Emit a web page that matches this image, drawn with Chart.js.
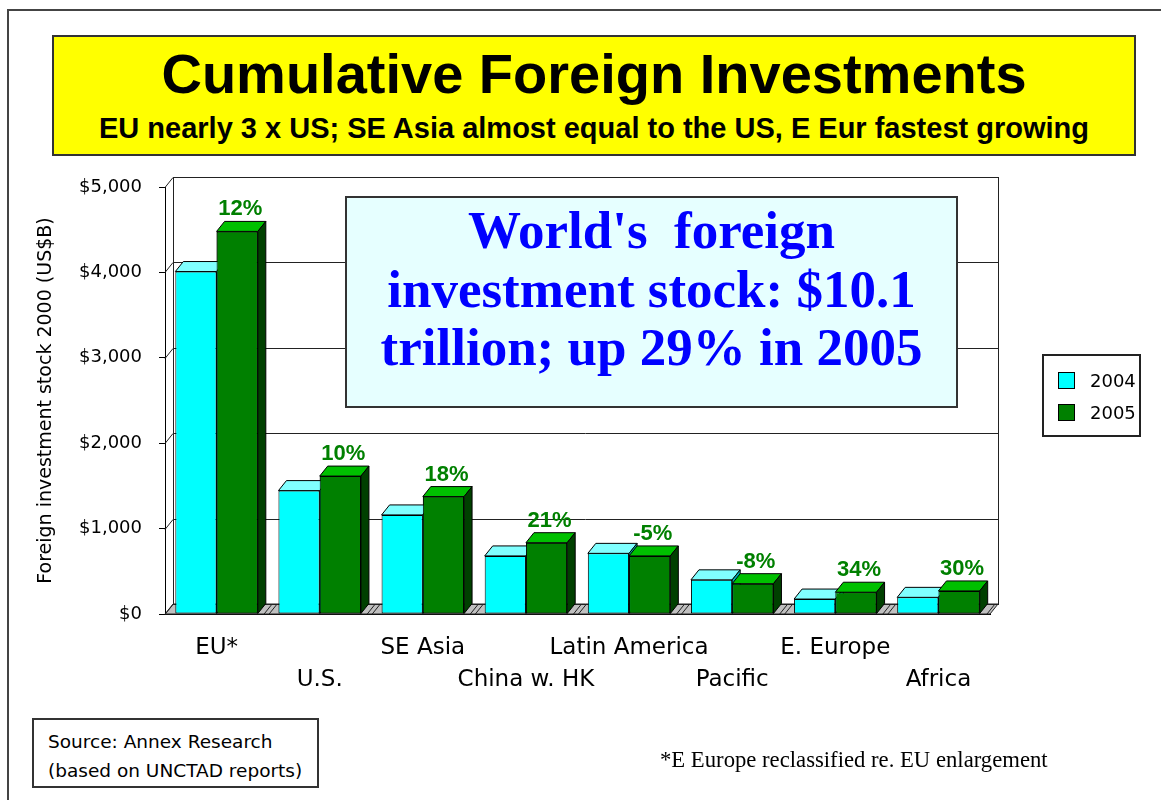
<!DOCTYPE html>
<html>
<head>
<meta charset="utf-8">
<title>Cumulative Foreign Investments</title>
<script src="https://cdn.jsdelivr.net/npm/chart.js@4.4.1/dist/chart.umd.min.js"></script>
<style>
  html, body { margin: 0; padding: 0; background: #fff; }
  body { width: 1161px; height: 800px; position: relative; overflow: hidden; }
  #frame { position: absolute; left: 7px; top: 9px; width: 1300px; height: 900px;
           border-left: 2px solid #444; border-top: 2px solid #444; }
  #chart { position: absolute; left: 0; top: 0; }
  .box { position: absolute; box-sizing: border-box; border: 2px solid #333; }
  .txt { position: absolute; white-space: pre; }
  #titleBox { left: 52px; top: 35px; width: 1084px; height: 121px; background: #ffff00; }
  #title { left: 52px; width: 1084px; top: 46px; text-align: center;
           font: bold 56px/56px "Liberation Sans", Arial, sans-serif; color: #000; }
  #subtitle { left: 52px; width: 1084px; top: 114px; text-align: center;
              font: bold 29px/29px "Liberation Sans", Arial, sans-serif; color: #000; }
  #callout { left: 345px; top: 196px; width: 613px; height: 212px; background: #e6ffff; }
  #calloutText { left: 345px; width: 613px; top: 201px; text-align: center;
                 font: bold 53px/58.5px "Liberation Serif", "Times New Roman", serif; color: #0000ff; }
  #sourceBox { left: 32px; top: 718px; width: 287px; height: 70px; background: #fff; }
  #sourceText { left: 48px; top: 727px; font: 18.5px/29px "DejaVu Sans", sans-serif; color: #000; }
  #footnote { left: 660px; top: 749px; font: 22.7px/22px "Liberation Serif", serif; color: #000; }
</style>
</head>
<body>
<div id="frame"></div>
<canvas id="chart" width="1161" height="800"></canvas>
<div class="box" id="titleBox"></div>
<div class="txt" id="title">Cumulative Foreign Investments</div>
<div class="txt" id="subtitle">EU nearly 3 x US; SE Asia almost equal to the US, E Eur fastest growing</div>
<div class="box" id="callout"></div>
<div class="txt" id="calloutText">World's  foreign
investment stock: $10.1
trillion; up 29% in 2005</div>
<div class="box" id="sourceBox"></div>
<div class="txt" id="sourceText">Source: Annex Research
(based on UNCTAD reports)</div>
<div class="txt" id="footnote">*E Europe reclassified re. EU enlargement</div>

<script>
// ── Data (US$ billions) ──
const categories = ['EU*', 'U.S.', 'SE Asia', 'China w. HK', 'Latin America', 'Pacific', 'E. Europe', 'Africa'];
const stock2004 = [4010, 1445, 1160, 680, 710, 400, 175, 195];
const stock2005 = [4480, 1615, 1375, 835, 680, 355, 255, 270];
const growthLabels = ['12%', '10%', '18%', '21%', '-5%', '-8%', '34%', '30%'];
const seriesNames = ['2004', '2005'];

// ── 3D look ──
const DX = 8, DY = 10;
const frontFace = ['#00ffff', '#008000'];
const topFace = ['#80ffff', '#00c000'];
const sideFace = ['#00b0b0', '#004000'];

function poly(ctx, pts) {
  ctx.beginPath();
  ctx.moveTo(pts[0][0], pts[0][1]);
  for (let i = 1; i < pts.length; i++) ctx.lineTo(pts[i][0], pts[i][1]);
  ctx.closePath();
}

function line(ctx, x1, y1, x2, y2) {
  ctx.beginPath();
  ctx.moveTo(x1, y1);
  ctx.lineTo(x2, y2);
  ctx.stroke();
}

function barFaces(ctx, bar, i) {
  const { x, y, base, width } = bar.getProps(['x', 'y', 'base', 'width'], true);
  const l = x - width / 2, r = x + width / 2;
  ctx.fillStyle = topFace[i];
  poly(ctx, [[l, y], [r, y], [r + DX, y - DY], [l + DX, y - DY]]);
  ctx.fill(); ctx.stroke();
  ctx.fillStyle = sideFace[i];
  poly(ctx, [[r, y], [r + DX, y - DY], [r + DX, base - DY], [r, base]]);
  ctx.fill(); ctx.stroke();
}

// walls, floor and back gridlines
const walls3d = {
  id: 'walls3d',
  beforeDatasetsDraw(chart) {
    const { ctx, chartArea: a, scales: { x, y } } = chart;
    ctx.save();
    ctx.lineWidth = 1;
    ctx.strokeStyle = '#222';
    // floor
    ctx.fillStyle = '#c0c0c0';
    poly(ctx, [[a.left, a.bottom], [a.right, a.bottom], [a.right + DX, a.bottom - DY], [a.left + DX, a.bottom - DY]]);
    ctx.fill(); ctx.stroke();
    const step = x.width / categories.length;
    for (let i = 1; i < categories.length; i++) {
      const bx = a.left + i * step;
      line(ctx, bx - 4, a.bottom, bx - 4 + DX, a.bottom - DY);
      line(ctx, bx + 1, a.bottom, bx + 1 + DX, a.bottom - DY);
    }
    line(ctx, a.right - 3, a.bottom, a.right - 3 + DX, a.bottom - DY);
    // back wall
    ctx.strokeRect(a.left + DX + 0.5, a.top - DY + 0.5, a.right - a.left, a.bottom - a.top);
    y.ticks.forEach(t => {
      const py = Math.round(y.getPixelForValue(t.value)) + 0.5;
      line(ctx, a.left + DX, py - DY, a.right + DX, py - DY);
      line(ctx, a.left, py, a.left + DX, py - DY);
    });
    ctx.restore();
  },
  afterDatasetsDraw(chart) {
    const { ctx } = chart;
    const m0 = chart.getDatasetMeta(0), m1 = chart.getDatasetMeta(1);
    ctx.save();
    ctx.lineWidth = 1;
    ctx.strokeStyle = '#000';
    m0.data.forEach(bar => barFaces(ctx, bar, 0));
    m1.data.forEach(bar => { bar.draw(ctx); barFaces(ctx, bar, 1); });
    // growth labels over the 2005 bars
    ctx.fillStyle = '#008000';
    ctx.font = 'bold 22px "Liberation Sans", Arial, sans-serif';
    ctx.textAlign = 'center';
    ctx.textBaseline = 'alphabetic';
    m1.data.forEach((bar, i) => {
      ctx.fillText(growthLabels[i], bar.x + DX / 2 - 1, bar.y - DY - 6);
    });
    ctx.restore();
  },
  afterDraw(chart) {
    // boxed legend at the right
    const { ctx } = chart;
    const bx = 1043, by = 355, bw = 97, bh = 81;
    ctx.save();
    ctx.fillStyle = '#fff';
    ctx.fillRect(bx, by, bw, bh);
    ctx.strokeStyle = '#222';
    ctx.lineWidth = 2;
    ctx.strokeRect(bx, by, bw, bh);
    ctx.lineWidth = 1;
    ctx.font = '18px "DejaVu Sans", sans-serif';
    ctx.textBaseline = 'middle';
    chart.data.datasets.forEach((ds, i) => {
      const cy = by + 26 + i * 32;
      ctx.fillStyle = ds.backgroundColor;
      ctx.fillRect(bx + 15, cy - 9, 17, 17);
      ctx.strokeStyle = '#000';
      ctx.strokeRect(bx + 15.5, cy - 8.5, 16, 16);
      ctx.fillStyle = '#000';
      ctx.fillText(ds.label, bx + 47, cy + 1);
    });
    ctx.restore();
  }
};

new Chart(document.getElementById('chart'), {
  type: 'bar',
  data: {
    labels: categories,
    datasets: [
      { label: seriesNames[0], data: stock2004, backgroundColor: frontFace[0] },
      { label: seriesNames[1], data: stock2005, backgroundColor: frontFace[1] }
    ]
  },
  options: {
    responsive: false,
    animation: false,
    layout: { padding: { left: 0, top: 187, right: 171, bottom: 86 } },
    datasets: {
      bar: {
        borderColor: '#000',
        borderWidth: 1,
        borderSkipped: false,
        categoryPercentage: 0.8,
        barPercentage: 1.0
      }
    },
    plugins: {
      legend: { display: false },
      tooltip: { enabled: false }
    },
    scales: {
      x: {
        afterFit: s => { s.height = 100; },
        grid: { display: false, drawTicks: false },
        border: { display: true, color: '#000' },
        ticks: {
          color: '#000',
          padding: 18,
          maxRotation: 0,
          autoSkip: false,
          font: { family: 'DejaVu Sans', size: 23, lineHeight: '32px' },
          // stagger the labels over two rows
          callback: (v, i) => (i % 2 === 0 ? [categories[i], ''] : ['', categories[i]])
        }
      },
      y: {
        min: 0,
        max: 5000,
        afterFit: s => { s.width = 165; },
        grid: { drawOnChartArea: false, drawTicks: true, tickLength: 6, color: '#000' },
        border: { display: true, color: '#000' },
        ticks: {
          stepSize: 1000,
          color: '#000',
          padding: 17,
          font: { family: 'DejaVu Sans', size: 18 },
          callback: v => '$' + v.toLocaleString('en-US')
        },
        title: {
          display: true,
          text: 'Foreign investment stock 2000 (US$B)',
          color: '#000',
          font: { family: 'DejaVu Sans', size: 19 },
          padding: { top: 35, bottom: 0 }
        }
      }
    }
  },
  plugins: [walls3d]
});
</script>
</body>
</html>
